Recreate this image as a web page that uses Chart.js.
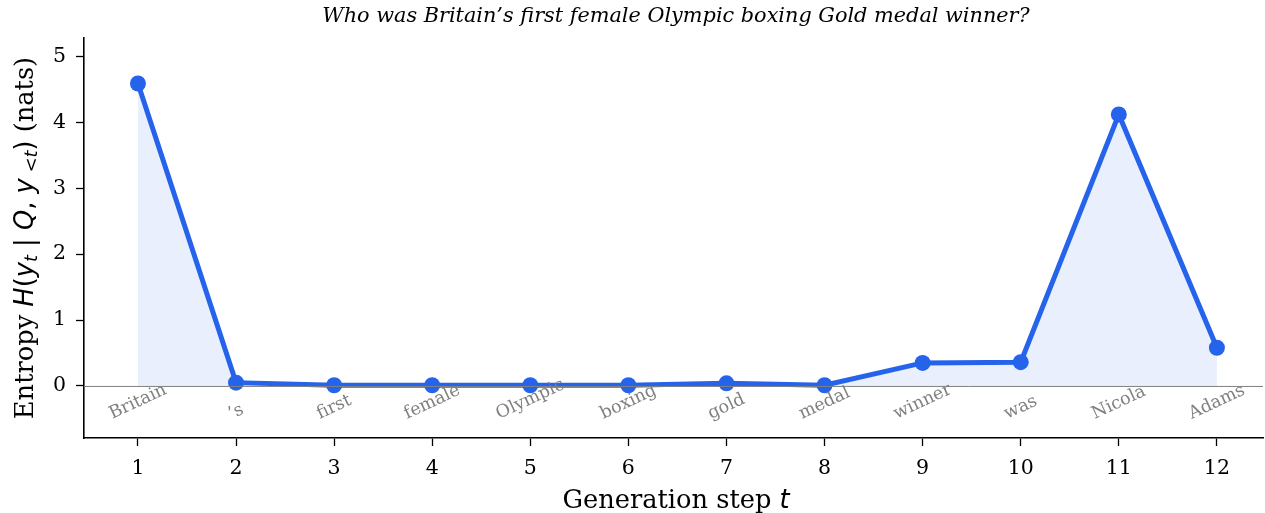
<!DOCTYPE html>
<html>
<head>
<meta charset="utf-8">
<script src="https://cdn.jsdelivr.net/npm/chart.js@4.4.1/dist/chart.umd.min.js"></script>
<style>
  html, body { margin: 0; padding: 0; background: #fff; }
  #wrap { width: 1265px; height: 513px; position: relative; }
</style>
</head>
<body>
<div id="wrap"><canvas id="c" width="1265" height="513"></canvas></div>
<script>
const titleText = "Who was Britain\u2019s first female Olympic boxing Gold medal winner?";
const steps = [1, 2, 3, 4, 5, 6, 7, 8, 9, 10, 11, 12];
const tokens = ["Britain", "\u2019s", "first", "female", "Olympic", "boxing", "gold", "medal", "winner", "was", "Nicola", "Adams"];
const entropy = [4.59, 0.05, 0.01, 0.01, 0.01, 0.01, 0.04, 0.01, 0.35, 0.36, 4.12, 0.58];
const xTicks = [1, 2, 3, 4, 5, 6, 7, 8, 9, 10, 11, 12];
const yTicks = [0, 1, 2, 3, 4, 5];

const SERIF = '"DejaVu Serif", serif';
const SANS = '"DejaVu Sans", sans-serif';
const BLUE = '#2563eb';

function drawMixed(ctx, segs, cx, cy, rot) {
  ctx.save();
  ctx.translate(cx, cy);
  ctx.rotate(rot);
  ctx.textBaseline = 'alphabetic';
  ctx.textAlign = 'left';
  let total = 0;
  for (const s of segs) { ctx.font = s.font; s.w = ctx.measureText(s.t).width; total += s.w; }
  let x = -total / 2;
  for (const s of segs) {
    ctx.font = s.font;
    ctx.fillStyle = '#000';
    ctx.fillText(s.t, x, s.dy || 0);
    x += s.w;
  }
  ctx.restore();
}

const decor = {
  id: 'decor',
  afterDatasetsDraw(chart) {
    const ctx = chart.ctx;
    const xs = chart.scales.x, ys = chart.scales.y;
    const area = chart.chartArea;
    const y0 = ys.getPixelForValue(0);
    ctx.save();
    ctx.strokeStyle = '#808080';
    ctx.lineWidth = 1;
    ctx.beginPath();
    ctx.moveTo(area.left, y0 + 0.5);
    ctx.lineTo(area.right, y0 + 0.5);
    ctx.stroke();
    const th = 25 * Math.PI / 180;
    const fs = 17.5;
    ctx.font = fs + 'px ' + SERIF;
    ctx.fillStyle = '#808080';
    ctx.textAlign = 'center';
    ctx.textBaseline = 'middle';
    const yb = ys.getPixelForValue(-0.58);
    const h = fs * 1.17;
    tokens.forEach((tok, i) => {
      const w = ctx.measureText(tok).width;
      const H = w * Math.sin(th) + h * Math.cos(th);
      const px = xs.getPixelForValue(steps[i]);
      const py = yb - H / 2;
      ctx.save();
      ctx.translate(px, py);
      ctx.rotate(-th);
      ctx.fillText(tok, 0, 0);
      ctx.restore();
    });
    ctx.restore();
  },
  afterDraw(chart) {
    const ctx = chart.ctx;
    ctx.save();
    ctx.font = 'italic 20.8px ' + SERIF;
    ctx.fillStyle = '#000';
    ctx.textAlign = 'center';
    ctx.textBaseline = 'alphabetic';
    ctx.fillText(titleText, 676, 22);
    ctx.restore();
    const S = 25.7, s = 18;
    drawMixed(ctx, [
      { t: 'Generation step ', font: S + 'px ' + SERIF },
      { t: 't', font: 'italic ' + S + 'px ' + SANS }
    ], 676, 508, 0);
    drawMixed(ctx, [
      { t: 'Entropy ', font: S + 'px ' + SERIF },
      { t: 'H', font: 'italic ' + S + 'px ' + SANS },
      { t: '(', font: S + 'px ' + SANS },
      { t: 'y', font: 'italic ' + S + 'px ' + SANS },
      { t: 't', font: 'italic ' + s + 'px ' + SANS, dy: 4 },
      { t: ' | ', font: S + 'px ' + SANS },
      { t: 'Q', font: 'italic ' + S + 'px ' + SANS },
      { t: ', ', font: S + 'px ' + SANS },
      { t: 'y', font: 'italic ' + S + 'px ' + SANS },
      { t: ' <', font: s + 'px ' + SANS, dy: 4 },
      { t: 't', font: 'italic ' + s + 'px ' + SANS, dy: 4 },
      { t: ')', font: S + 'px ' + SANS },
      { t: ' (nats)', font: S + 'px ' + SERIF }
    ], 33, 238, -Math.PI / 2);
  }
};

new Chart(document.getElementById('c'), {
  type: 'line',
  data: {
    datasets: [{
      data: steps.map((x, i) => ({ x: x, y: entropy[i] })),
      borderColor: BLUE,
      backgroundColor: 'rgba(37,99,235,0.1)',
      borderWidth: 5,
      pointRadius: 8,
      pointHoverRadius: 8,
      pointBackgroundColor: BLUE,
      pointBorderWidth: 0,
      fill: 'origin',
      tension: 0,
      clip: false
    }]
  },
  options: {
    responsive: false,
    animation: false,
    events: [],
    layout: { autoPadding: false, padding: { top: 38, right: 2, left: 0, bottom: 0 } },
    plugins: { legend: { display: false }, tooltip: { enabled: false }, title: { display: false } },
    scales: {
      x: {
        type: 'linear',
        min: 0.45, max: 12.47,
        afterBuildTicks: a => { a.ticks = xTicks.map(v => ({ value: v })); },
        afterFit: a => { a.height = 75; a.paddingLeft = 0; a.paddingRight = 0; },
        grid: { display: true, drawOnChartArea: false, drawTicks: true, tickLength: 8, color: '#000', tickWidth: 1.3 },
        border: { display: true, color: '#000', width: 1.6 },
        ticks: { color: '#000', font: { family: SERIF, size: 20.5 }, padding: 10, maxRotation: 0, autoSkip: false }
      },
      y: {
        type: 'linear',
        min: -0.79, max: 5.28,
        afterBuildTicks: a => { a.ticks = yTicks.map(v => ({ value: v })); },
        afterFit: a => { a.width = 84; a.paddingTop = 0; a.paddingBottom = 0; },
        grid: { display: true, drawOnChartArea: false, drawTicks: true, tickLength: 8, color: '#000', tickWidth: 1.3 },
        border: { display: true, color: '#000', width: 1.6 },
        ticks: { color: '#000', font: { family: SERIF, size: 20.5 }, padding: 10 }
      }
    }
  },
  plugins: [decor]
});
</script>
</body>
</html>
